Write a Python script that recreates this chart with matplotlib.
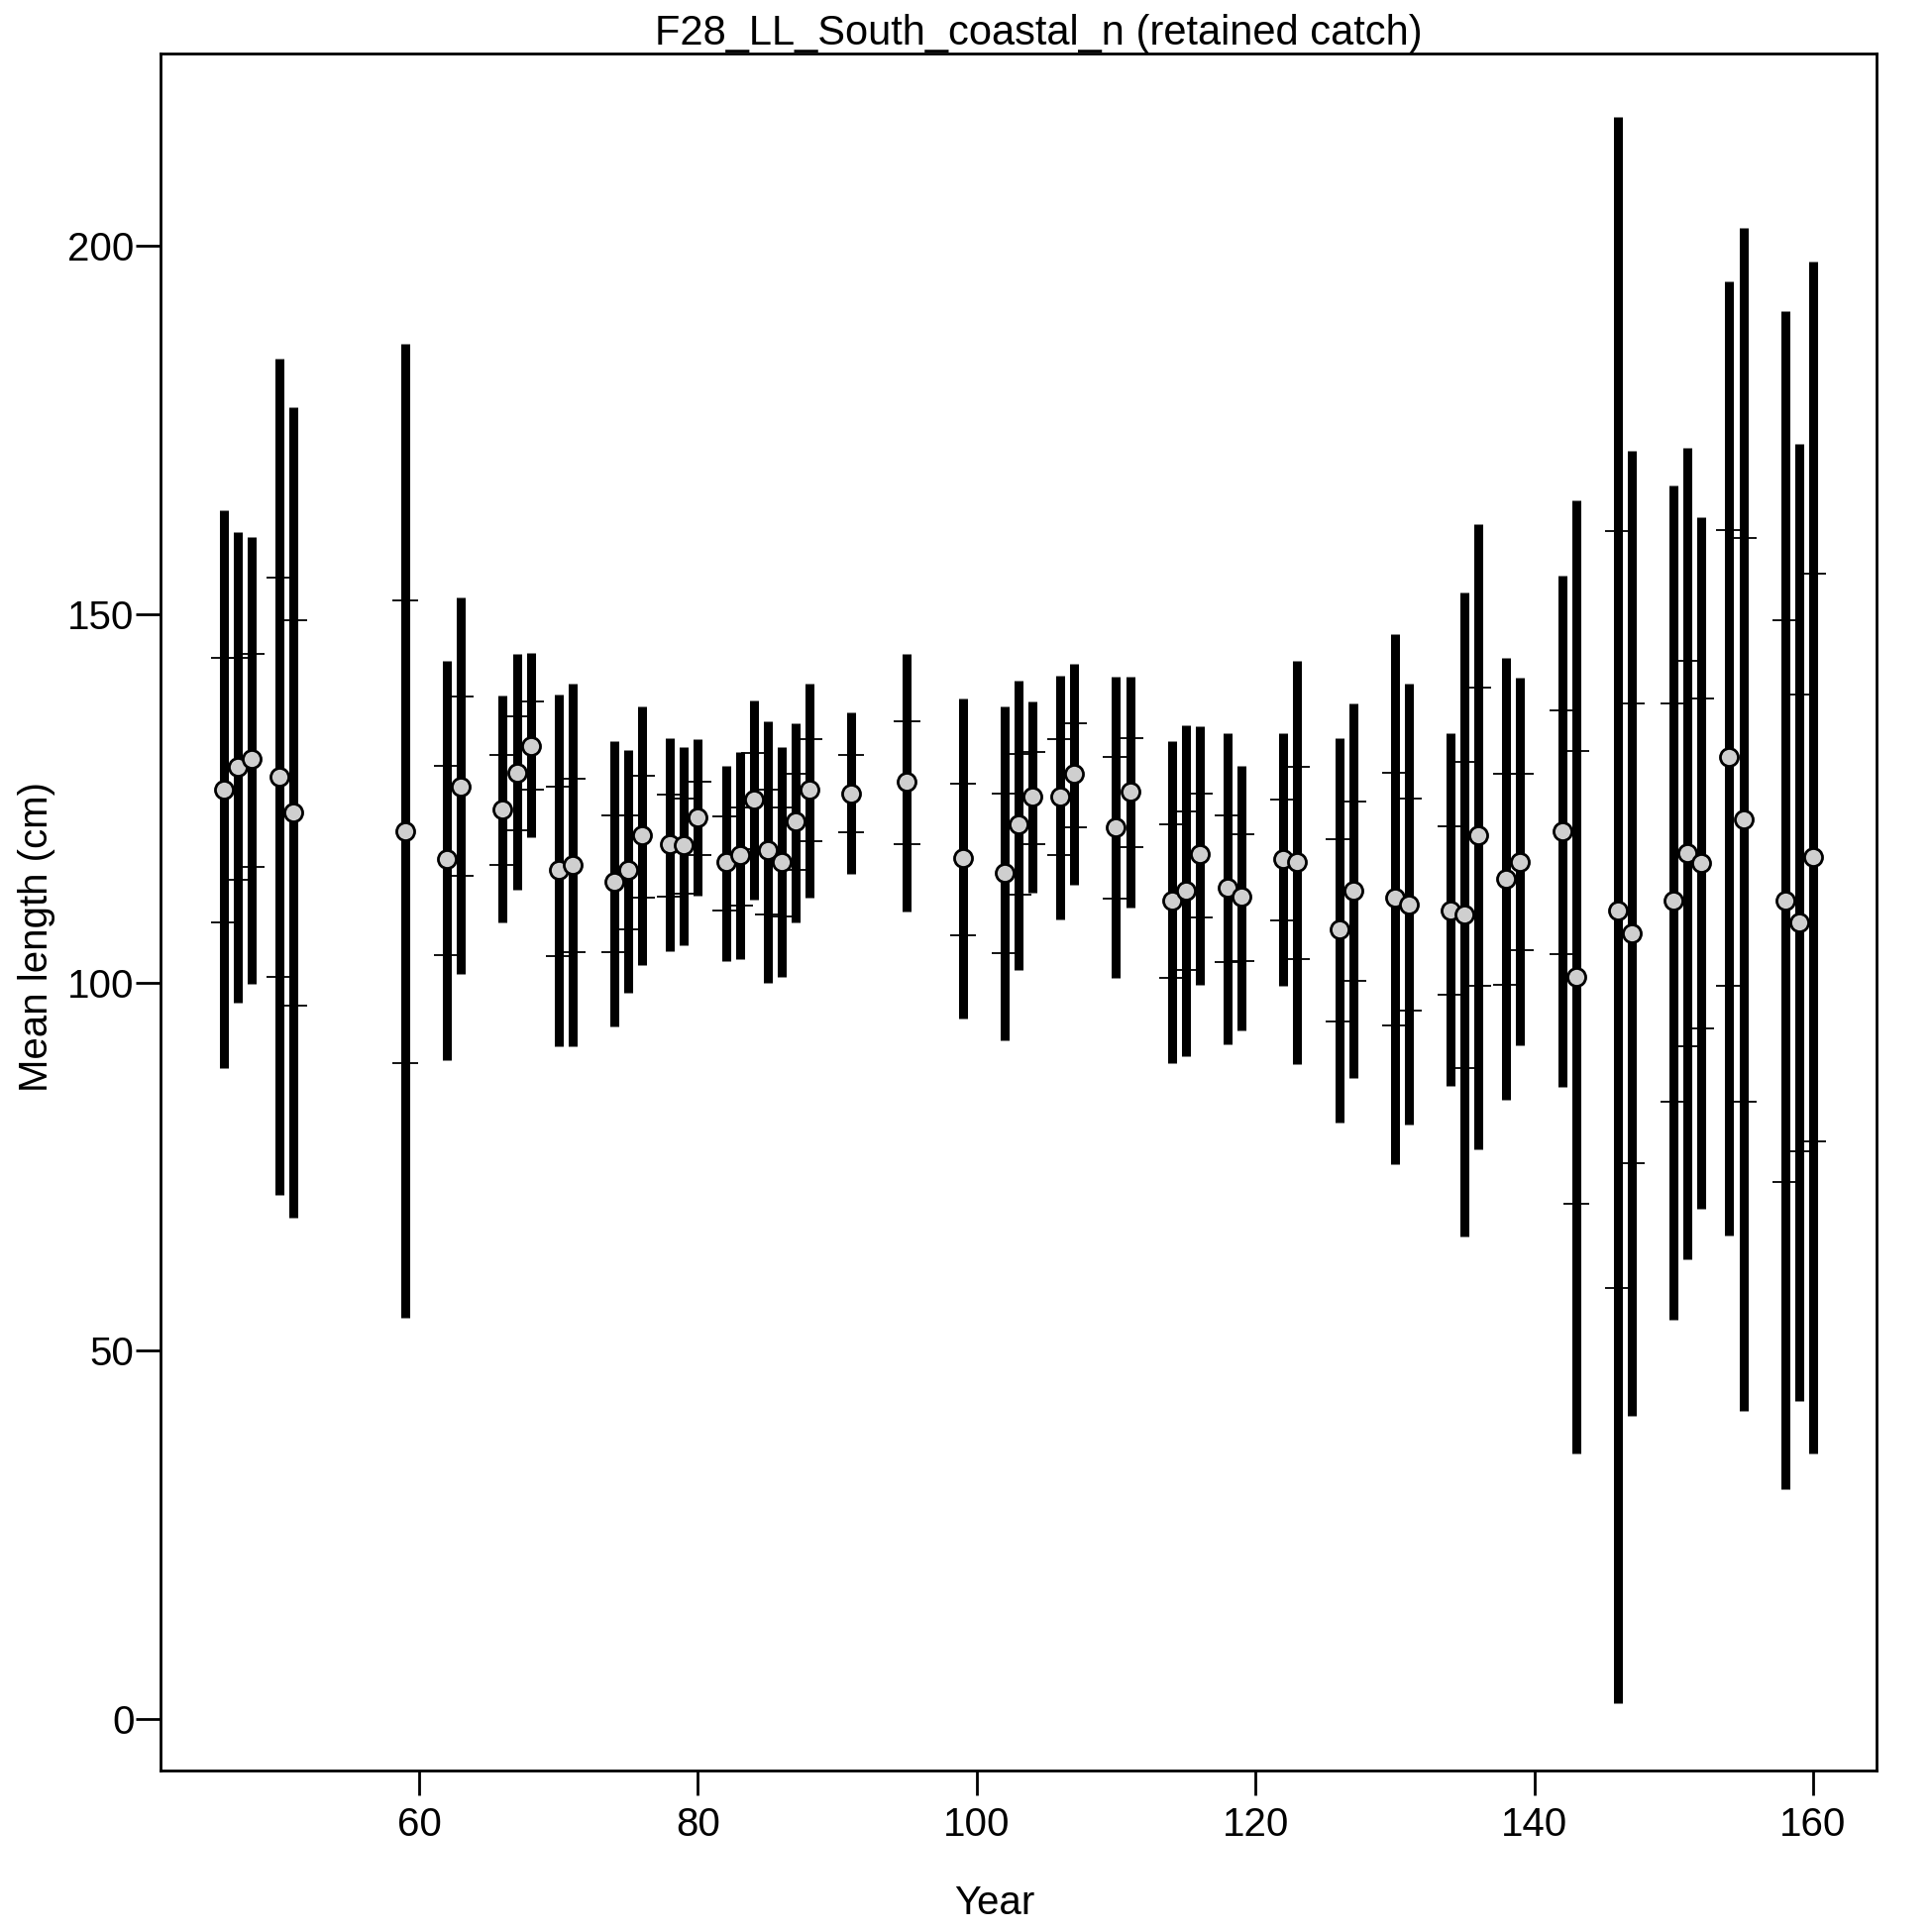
import numpy as np
import matplotlib
matplotlib.use("Agg")
import matplotlib.pyplot as plt

plt.rcParams['font.family'] = ['Liberation Sans', 'DejaVu Sans']

# data
years = [46, 47, 48, 50, 51, 59, 62, 63, 66, 67, 68, 70, 71, 74, 75, 76, 78, 79,
         80, 82, 83, 84, 85, 86, 87, 88, 91, 95, 99, 102, 103, 104, 106, 107,
         110, 111, 114, 115, 116, 118, 119, 122, 123, 126, 127, 130, 131, 134,
         135, 136, 138, 139, 142, 143, 146, 147, 150, 151, 152, 154, 155, 158,
         159, 160]

mean_len = [126.2, 129.3, 130.3, 127.9, 123.1, 120.5, 116.7, 126.6, 123.5, 128.5,
            132.1, 115.2, 115.9, 113.6, 115.2, 120.0, 118.7, 118.6, 122.4, 116.3,
            117.3, 124.8, 117.9, 116.3, 121.8, 126.1, 125.6, 127.2, 116.9, 114.9,
            121.4, 125.2, 125.2, 128.3, 121.1, 125.9, 111.1, 112.5, 117.4, 112.8,
            111.6, 116.7, 116.3, 107.2, 112.5, 111.5, 110.6, 109.8, 109.2, 120.0,
            114.0, 116.4, 120.5, 100.7, 109.8, 106.7, 111.1, 117.6, 116.2, 130.6,
            122.1, 111.1, 108.2, 117.0]

outer_lo = [88.4, 97.2, 99.8, 71.2, 68.1, 54.5, 89.4, 101.2, 108.1, 112.6,
            119.7, 91.3, 91.3, 94.0, 98.6, 102.4, 104.3, 105.1, 111.8, 102.9,
            103.2, 111.2, 100.0, 100.7, 108.2, 111.5, 114.7, 109.6, 95.1, 92.1,
            101.7, 112.2, 108.5, 113.2, 100.6, 110.2, 89.1, 90.0, 99.6, 91.6,
            93.5, 99.5, 88.9, 81.0, 87.0, 75.3, 80.7, 85.9, 65.5, 77.4,
            84.1, 91.4, 85.8, 36.1, 2.2, 41.1, 54.2, 62.4, 69.2, 65.7,
            41.8, 31.2, 43.2, 36.0]

outer_hi = [164.1, 161.1, 160.4, 184.7, 178.1, 186.7, 143.7, 152.2, 138.9, 144.6,
            144.7, 139.1, 140.5, 132.8, 131.6, 137.5, 133.1, 131.9, 133.0, 129.4,
            131.3, 138.2, 135.4, 132.0, 135.2, 140.5, 136.7, 144.6, 138.5, 137.5,
            141.0, 138.1, 141.6, 143.2, 141.5, 141.5, 132.7, 134.9, 134.8, 133.8,
            129.4, 133.8, 143.6, 133.1, 137.8, 147.3, 140.6, 133.8, 152.9, 162.2,
            144.0, 141.3, 155.2, 165.4, 217.5, 172.1, 167.5, 172.6, 163.1, 195.2,
            202.4, 191.1, 173.1, 197.9]

inner_lo = [108.1, 113.9, 115.7, 100.7, 96.8, 89.0, 103.7, 114.5, 116.0, 120.7,
            126.2, 103.6, 104.1, 104.1, 107.2, 111.5, 111.6, 112.1, 117.3, 109.8,
            110.4, 118.1, 109.2, 108.9, 115.3, 119.1, 120.4, 118.7, 106.4, 104.0,
            111.9, 118.7, 117.3, 121.1, 111.4, 118.3, 100.6, 101.7, 108.8, 102.7,
            102.9, 108.4, 103.1, 94.7, 100.2, 94.1, 96.2, 98.3, 88.3, 99.5,
            99.6, 104.4, 103.9, 69.9, 58.5, 75.4, 83.8, 91.3, 93.8, 99.5,
            83.8, 72.9, 77.1, 78.4]

inner_hi = [144.1, 144.0, 144.6, 155.0, 149.2, 151.9, 129.4, 138.8, 130.9, 136.1,
            138.1, 126.5, 127.6, 122.7, 122.7, 128.0, 125.5, 124.9, 127.3, 122.5,
            123.8, 131.1, 126.2, 123.8, 128.3, 133.0, 130.9, 135.4, 127.0, 125.6,
            131.0, 131.3, 133.0, 135.2, 130.6, 133.1, 121.4, 123.2, 125.6, 122.7,
            120.1, 124.8, 129.3, 119.4, 124.5, 128.4, 124.9, 121.2, 129.9, 140.0,
            128.3, 128.3, 136.9, 131.4, 161.3, 137.8, 137.9, 143.7, 138.5, 161.4,
            160.3, 149.2, 139.1, 155.5]

W = 1950
fig = plt.figure(figsize=(19.5, 19.5), dpi=100)
ax = fig.add_axes([162 / W, 1 - 1787 / W, (1894 - 162) / W, (1787 - 54) / W])

x = np.array(years, dtype=float)

# thick outer intervals
ax.vlines(x, outer_lo, outer_hi, colors='black', linewidth=6.5, capstyle='butt', zorder=2)
# thin caps for inner intervals
cap = 0.93
ax.hlines(inner_lo, x - cap, x + cap, colors='black', linewidth=1.3, zorder=2)
ax.hlines(inner_hi, x - cap, x + cap, colors='black', linewidth=1.3, zorder=2)
# observed means
ax.plot(x, mean_len, 'o', ms=13, mfc='#CFCFCF', mec='black', mew=2.0, zorder=3)

ax.set_xlim(41.44, 164.56)
ax.set_ylim(-7.0, 226.1)
ax.set_xticks([60, 80, 100, 120, 140, 160])
ax.set_yticks([0, 50, 100, 150, 200])

for s in ax.spines.values():
    s.set_linewidth(2.0)
ax.tick_params(axis='both', labelsize=29, length=18, width=2.0, direction='out')
ax.tick_params(axis='y', pad=1)
ax.tick_params(axis='x', pad=8)

fig.text(1048 / W, 1 - 45 / W, 'F28_LL_South_coastal_n (retained catch)',
         ha='center', va='baseline', fontsize=30)
fig.text(1004 / W, 1 - 1932 / W, 'Year', ha='center', va='baseline', fontsize=29)
fig.text(37 / W, 1 - 945 / W, 'Mean length (cm)', ha='center', va='center',
         rotation=90, fontsize=29)

fig.savefig('out.png', dpi=100)
